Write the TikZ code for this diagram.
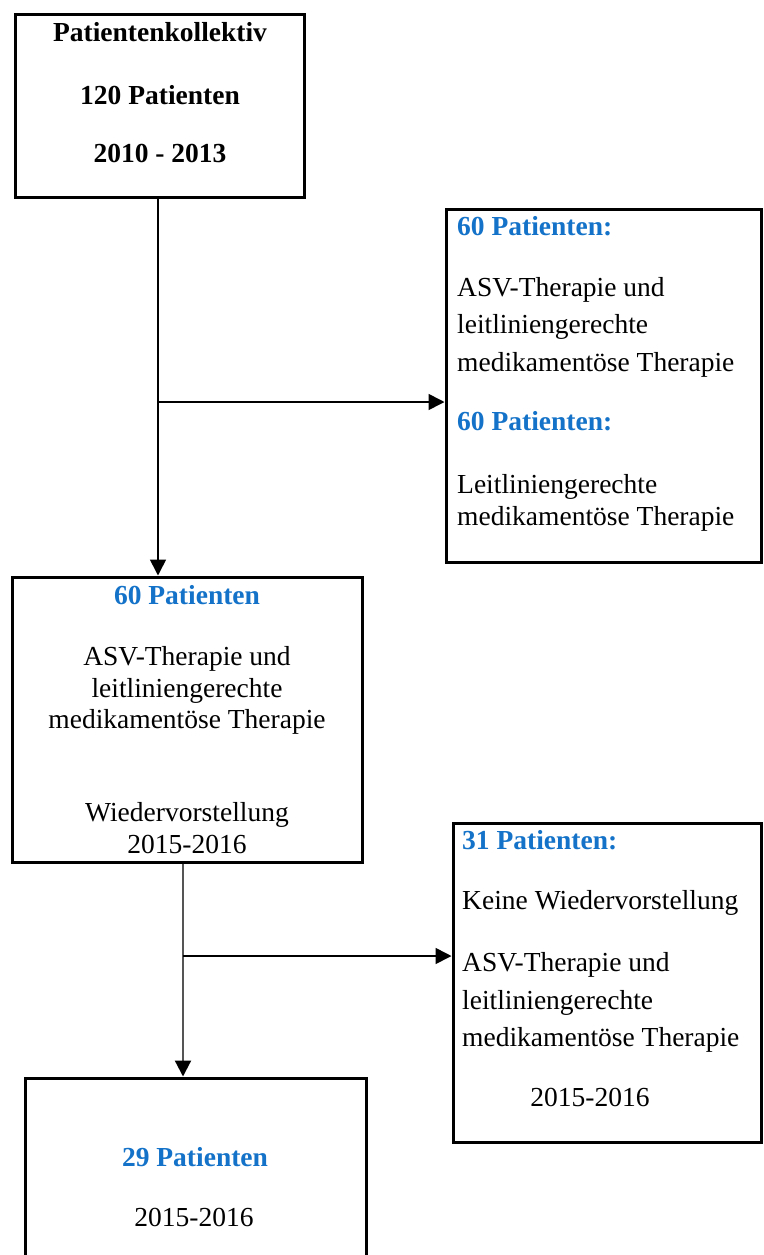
\documentclass[tikz,border=0pt]{standalone}
\usepackage{fontspec}
\setmainfont{Liberation Serif}
\usetikzlibrary{arrows.meta}
\definecolor{pblue}{RGB}{20,115,200}
\definecolor{lgray}{RGB}{85,85,85}
\begin{document}
\begin{tikzpicture}[x=1pt,y=-1pt,
  box/.style={draw=black,line width=3pt,inner sep=0pt,fill=white},
  txt/.style={anchor=base,inner sep=0pt,font=\fontsize{27.5}{30}\selectfont},
  ltxt/.style={anchor=base west,inner sep=0pt,font=\fontsize{27.5}{30}\selectfont},
  bt/.style={font=\fontsize{27.5}{30}\selectfont\bfseries},
  link/.style={line width=1.6pt,draw=black},
  glink/.style={line width=2.2pt,draw=lgray},
  tip/.style={-{Triangle[length=16pt,width=16pt,color=black]}}]
\useasboundingbox (0,0) rectangle (763,1255);
\clip (0,0) rectangle (763,1255);
% boxes
\node[box,minimum width=289pt,minimum height=182pt] (A) at (159.5,106) {};
\node[box,minimum width=315pt,minimum height=353pt] (C) at (603.5,385.5) {};
\node[box,minimum width=350pt,minimum height=285pt] (B) at (187,719.5) {};
\node[box,minimum width=308pt,minimum height=319pt] (D) at (607,982.5) {};
\node[box,minimum width=341pt,minimum height=222pt] (E) at (195.5,1189) {};
% box A text
\node[txt,bt] (a1) at (160,42) {Patientenkollektiv};
\node[txt,bt] (a2) at (160,104) {120 Patienten};
\node[txt,bt] (a3) at (160,162) {2010 - 2013};
% box C text
\node[ltxt,bt,text=pblue] (c1) at (457,235) {60 Patienten:};
\node[ltxt] (c2) at (457,296) {ASV-Therapie und};
\node[ltxt] (c3) at (457,333) {leitliniengerechte};
\node[ltxt] (c4) at (457,371) {medikamentöse Therapie};
\node[ltxt,bt,text=pblue] (c5) at (457,430) {60 Patienten:};
\node[ltxt] (c6) at (457,493) {Leitliniengerechte};
\node[ltxt] (c7) at (457,525) {medikamentöse Therapie};
% box B text
\node[txt,bt,text=pblue] (b1) at (187,604) {60 Patienten};
\node[txt] (b2) at (187,665) {ASV-Therapie und};
\node[txt] (b3) at (187,697) {leitliniengerechte};
\node[txt] (b4) at (187,728) {medikamentöse Therapie};
\node[txt] (b5) at (187,821) {Wiedervorstellung};
\node[txt] (b6) at (187,853) {2015-2016};
% box D text
\node[ltxt,bt,text=pblue] (d1) at (462,849) {31 Patienten:};
\node[ltxt] (d2) at (462,909) {Keine Wiedervorstellung};
\node[ltxt] (d3) at (462,971) {ASV-Therapie und};
\node[ltxt] (d4) at (462,1009) {leitliniengerechte};
\node[ltxt] (d5) at (462,1046) {medikamentöse Therapie};
\node[txt] (d6) at (590,1106) {2015-2016};
% box E text
\node[txt,bt,text=pblue] (e1) at (195,1166) {29 Patienten};
\node[txt] (e2) at (194,1226) {2015-2016};
% connectors
\coordinate (j1) at (158,402);
\coordinate (j2) at (183,956);
\draw[link] (A.south -| j1) -- (j1);
\draw[link,tip] (j1) -- (j1 |- B.north);
\draw[link,tip] (j1) -- (j1 -| C.west);
\draw[glink] (B.south -| j2) -- (j2);
\draw[glink,tip] (j2) -- (j2 |- E.north);
\draw[link,tip] (j2) -- (j2 -| D.west);
\end{tikzpicture}
\end{document}
